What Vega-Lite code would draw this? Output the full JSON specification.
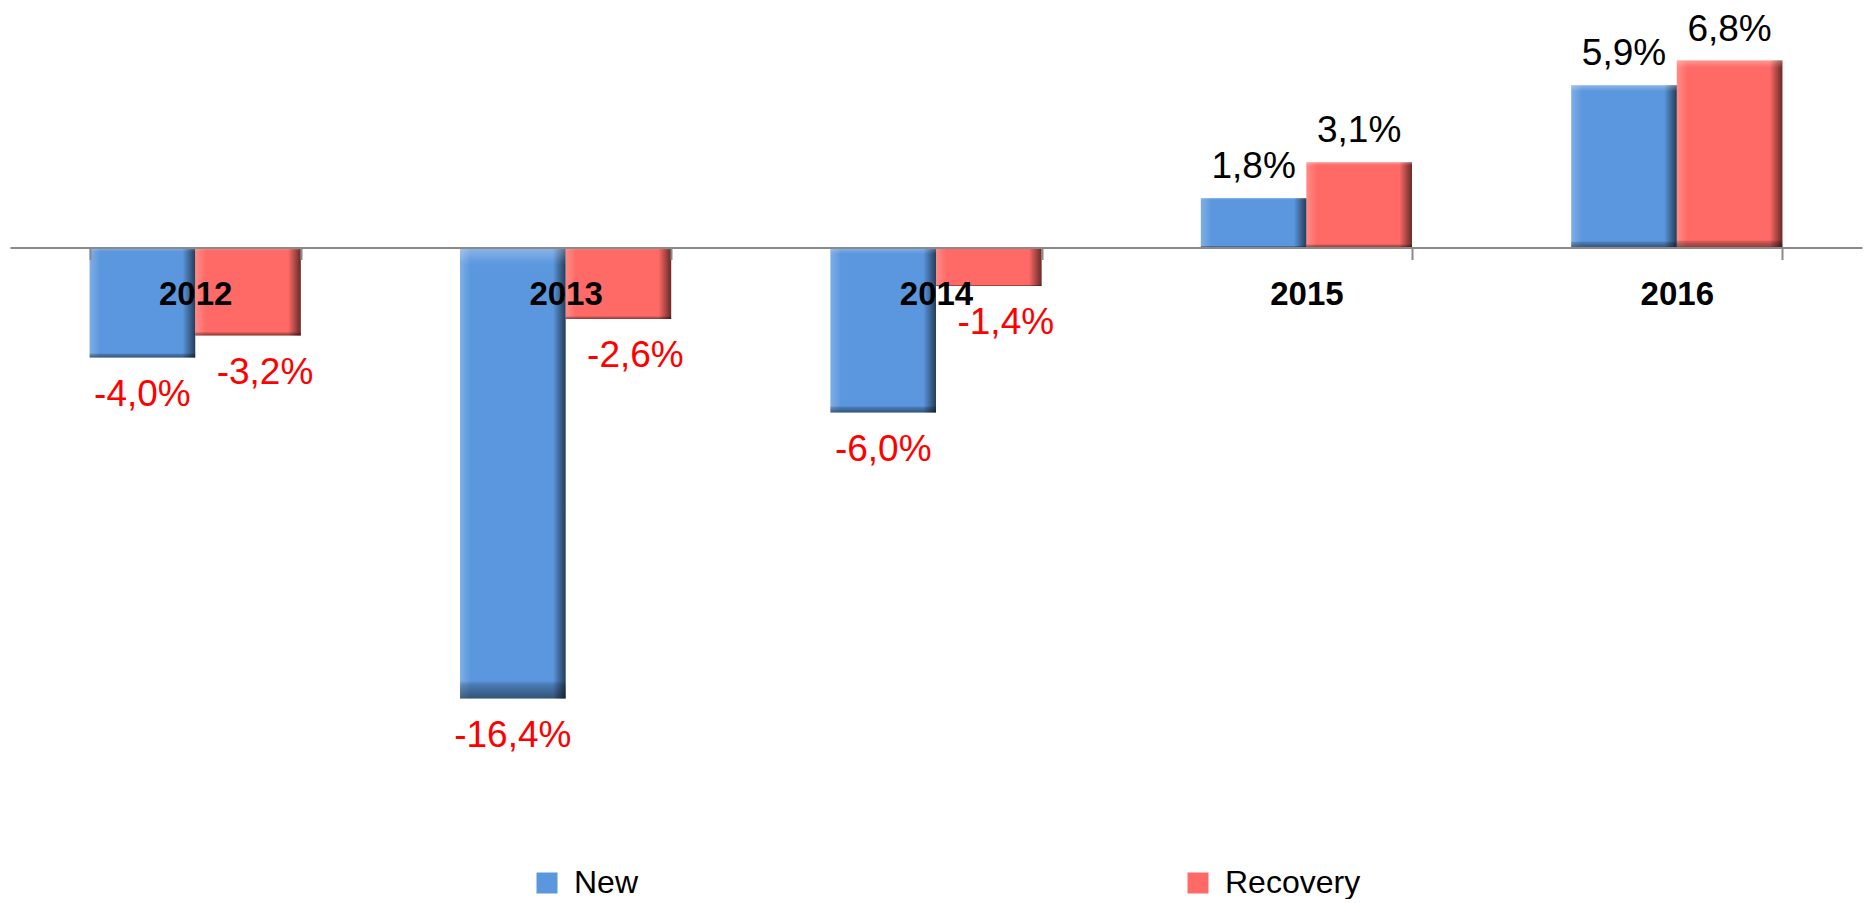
{
  "$schema": "https://vega.github.io/schema/vega-lite/v6.json",
  "width": 1852,
  "height": 825,
  "padding": {"left": 10, "right": 2, "top": 0, "bottom": 0},
  "background": "#ffffff",
  "config": {"view": {"stroke": null}, "font": "Liberation Sans"},
  "data": {
    "values": [
      {"year": "2012", "series": "New", "value": -4.0, "label": "-4,0%"},
      {"year": "2012", "series": "Recovery", "value": -3.2, "label": "-3,2%"},
      {"year": "2013", "series": "New", "value": -16.4, "label": "-16,4%"},
      {"year": "2013", "series": "Recovery", "value": -2.6, "label": "-2,6%"},
      {"year": "2014", "series": "New", "value": -6.0, "label": "-6,0%"},
      {"year": "2014", "series": "Recovery", "value": -1.4, "label": "-1,4%"},
      {"year": "2015", "series": "New", "value": 1.8, "label": "1,8%"},
      {"year": "2015", "series": "Recovery", "value": 3.1, "label": "3,1%"},
      {"year": "2016", "series": "New", "value": 5.9, "label": "5,9%"},
      {"year": "2016", "series": "Recovery", "value": 6.8, "label": "6,8%"}
    ]
  },
  "encoding": {
    "x": {
      "field": "year", "type": "nominal",
      "scale": {"paddingInner": 0.43, "paddingOuter": 0.215},
      "axis": {
        "title": null, "orient": "bottom", "offset": -577.5, "zindex": 1,
        "domainColor": "#8a8a8a", "domainWidth": 2,
        "tickColor": "#8a8a8a", "tickWidth": 2, "tickSize": 12, "tickBand": "extent",
        "labelFont": "Liberation Sans", "labelFontSize": 33, "labelFontWeight": "bold",
        "labelColor": "#000000", "labelPadding": 19, "labelAngle": 0
      }
    },
    "xOffset": {"field": "series", "type": "nominal", "sort": ["New", "Recovery"]},
    "y": {
      "field": "value", "type": "quantitative",
      "scale": {"domain": [-21, 9], "nice": false, "zero": true},
      "axis": null
    }
  },
  "layer": [
    {
      "mark": {"type": "bar"},
      "encoding": {
        "color": {
          "field": "series", "type": "nominal",
          "scale": {"domain": ["New", "Recovery"], "range": ["#5B97DE", "#FF6A66"]},
          "legend": {
            "title": null, "orient": "none", "legendX": 521, "legendY": 867,
            "direction": "horizontal", "columns": 2, "gridAlign": "all", "columnPadding": 472,
            "symbolType": "square", "symbolSize": 441,
            "symbolStrokeWidth": 0, "labelOffset": 11,
            "labelFont": "Liberation Sans", "labelFontSize": 32, "labelColor": "#000000"
          }
        }
      }
    },
    {
      "mark": {
        "type": "bar",
        "fill": {
          "gradient": "linear", "x1": 0, "x2": 1, "y1": 0, "y2": 0,
          "stops": [
            {"offset": 0, "color": "rgba(255,255,255,0.22)"},
            {"offset": 0.08, "color": "rgba(255,255,255,0.05)"},
            {"offset": 0.1, "color": "rgba(255,255,255,0)"},
            {"offset": 0.88, "color": "rgba(0,0,0,0)"},
            {"offset": 0.92, "color": "rgba(0,0,0,0.2)"},
            {"offset": 1, "color": "rgba(0,0,0,0.6)"}
          ]
        }
      }
    },
    {
      "mark": {
        "type": "bar",
        "fill": {
          "gradient": "linear", "x1": 0, "x2": 0, "y1": 0, "y2": 1,
          "stops": [
            {"offset": 0, "color": "rgba(255,255,255,0.3)"},
            {"offset": 0.03, "color": "rgba(255,255,255,0.05)"},
            {"offset": 0.04, "color": "rgba(255,255,255,0)"},
            {"offset": 0.96, "color": "rgba(0,0,0,0)"},
            {"offset": 0.97, "color": "rgba(0,0,0,0.2)"},
            {"offset": 1, "color": "rgba(0,0,0,0.45)"}
          ]
        }
      }
    },
    {
      "transform": [{"filter": "datum.value < 0 && datum.series == 'New'"}],
      "mark": {"type": "text", "baseline": "middle", "align": "center", "dy": 37, "fontSize": 37, "font": "Liberation Sans"},
      "encoding": {"text": {"field": "label"}, "color": {"value": "#ff0000"}}
    },
    {
      "transform": [{"filter": "datum.value < 0 && datum.series == 'Recovery'"}],
      "mark": {"type": "text", "baseline": "middle", "align": "center", "dx": 17, "dy": 37, "fontSize": 37, "font": "Liberation Sans"},
      "encoding": {"text": {"field": "label"}, "color": {"value": "#ff0000"}}
    },
    {
      "transform": [{"filter": "datum.value >= 0"}],
      "mark": {"type": "text", "baseline": "middle", "align": "center", "dy": -31, "fontSize": 37, "font": "Liberation Sans"},
      "encoding": {"text": {"field": "label"}, "color": {"value": "#000000"}}
    }
  ]
}
